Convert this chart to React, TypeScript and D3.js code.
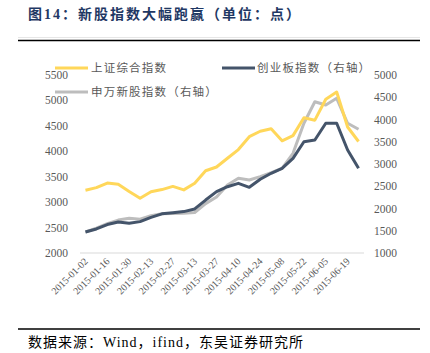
import React from "react";
import * as d3 from "d3";

const dates = [
  "2015-01-02", "2015-01-09", "2015-01-16", "2015-01-23", "2015-01-30",
  "2015-02-06", "2015-02-13", "2015-02-20", "2015-02-27", "2015-03-06",
  "2015-03-13", "2015-03-20", "2015-03-27", "2015-04-03", "2015-04-10",
  "2015-04-17", "2015-04-24", "2015-05-01", "2015-05-08", "2015-05-15",
  "2015-05-22", "2015-05-29", "2015-06-05", "2015-06-12", "2015-06-19",
  "2015-06-26",
];
// 上证综合指数 (left axis)
const shIndex = [
  3235, 3285, 3376, 3351, 3210, 3076, 3203, 3247, 3310, 3241, 3373, 3617, 3691,
  3863, 4034, 4287, 4394, 4442, 4206, 4308, 4658, 4612, 5023, 5166, 4478, 4192,
];
// 创业板指数 (right axis)
const cyIndex = [
  1472, 1540, 1640, 1695, 1670, 1705, 1800, 1880, 1905, 1930, 1990, 2190, 2378,
  2490, 2566, 2476, 2656, 2791, 2903, 3128, 3501, 3539, 3915, 3915, 3315, 2903,
];
// 申万新股指数 (right axis)
const newIndex = [
  1472, 1560, 1660, 1740, 1780, 1760, 1840, 1880, 1885, 1895, 1910, 2110, 2258,
  2528, 2679, 2640, 2715, 2805, 2903, 3240, 3915, 4400, 4326, 4476, 3915, 3780,
];
const leftTicks = [2000, 2500, 3000, 3500, 4000, 4500, 5000, 5500];
const rightTicks = [1000, 1500, 2000, 2500, 3000, 3500, 4000, 4500, 5000];

const W = 430;
const H = 353;
const margin = { left: 80, right: 364, top: 75, bottom: 253 };
const serif = "'Liberation Serif', 'Times New Roman', 'Noto Sans CJK SC', serif";
const cjk = "'Liberation Serif', 'Noto Sans CJK SC', serif";

const YELLOW = "#FFD75A";
const DARK = "#44546A";
const GRAY = "#BDBDBD";
const TXT = "#595959";

export default function App() {
  const x = d3.scaleBand().domain(dates).range([margin.left, margin.right]);
  const px = (d: string) => (x(d) as number) + x.bandwidth() / 2;
  const yL = d3.scaleLinear().domain([2000, 5500]).range([margin.bottom, margin.top]);
  const yR = d3.scaleLinear().domain([1000, 5000]).range([margin.bottom, margin.top]);

  const lineL = d3.line<number>().x((_, i) => px(dates[i])).y((d) => yL(d));
  const lineR = d3.line<number>().x((_, i) => px(dates[i])).y((d) => yR(d));

  const labelDates = dates.filter((_, i) => i % 2 === 0);

  return (
    <svg width={W} height={H} style={{ position: "absolute", left: 0, top: 0, background: "#fff" }}>
      <text x={28} y={19} fontFamily={cjk} fontWeight="bold" fontSize={14} letterSpacing={2} fill="#1F3864">
        图14：新股指数大幅跑赢（单位：点）
      </text>
      <line x1={18} x2={420} y1={37.5} y2={37.5} stroke="#e6e6e6" strokeWidth={1} />
      <line x1={18} x2={420} y1={40.5} y2={40.5} stroke="#000" strokeWidth={1.5} />

      <line x1={margin.left} x2={margin.right} y1={margin.bottom} y2={margin.bottom} stroke="#d9d9d9" strokeWidth={1.2} />

      {leftTicks.map((t) => (
        <text key={"l" + t} x={68} y={yL(t) + 4} textAnchor="end" fontFamily={serif} fontSize={11.5} fill={TXT}>
          {t}
        </text>
      ))}
      {rightTicks.map((t) => (
        <text key={"r" + t} x={374} y={yR(t) + 4} textAnchor="start" fontFamily={serif} fontSize={11.5} fill={TXT}>
          {t}
        </text>
      ))}
      {labelDates.map((d) => (
        <text
          key={d}
          transform={`translate(${px(d) + 3},${margin.bottom + 9}) rotate(-45)`}
          textAnchor="end"
          fontFamily={serif}
          fontSize={10}
          fill={TXT}
        >
          {d}
        </text>
      ))}

      <path d={lineR(newIndex) || ""} fill="none" stroke={GRAY} strokeWidth={3} strokeLinejoin="round" />
      <path d={lineR(cyIndex) || ""} fill="none" stroke={DARK} strokeWidth={3} strokeLinejoin="round" />
      <path d={lineL(shIndex) || ""} fill="none" stroke={YELLOW} strokeWidth={3} strokeLinejoin="round" />

      {/* legend */}
      <line x1={55} x2={88} y1={68} y2={68} stroke={YELLOW} strokeWidth={3} />
      <text x={91} y={72} fontFamily={cjk} fontSize={11.5} letterSpacing={1.2} fill={TXT}>上证综合指数</text>
      <line x1={222} x2={255} y1={68} y2={68} stroke={DARK} strokeWidth={3} />
      <text x={257} y={72} fontFamily={cjk} fontSize={11.5} letterSpacing={1.2} fill={TXT}>创业板指数（右轴）</text>
      <line x1={55} x2={88} y1={92} y2={92} stroke={GRAY} strokeWidth={3} />
      <text x={91} y={96} fontFamily={cjk} fontSize={11.5} letterSpacing={1.2} fill={TXT}>申万新股指数（右轴）</text>

      <line x1={18} x2={420} y1={329} y2={329} stroke="#000" strokeWidth={1.5} />
      <text x={28} y={347} fontFamily={cjk} fontSize={14} letterSpacing={1} fill="#000">
        数据来源：Wind，ifind，东吴证券研究所
      </text>
    </svg>
  );
}
